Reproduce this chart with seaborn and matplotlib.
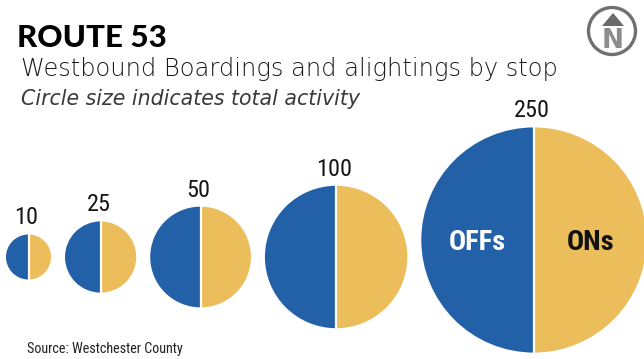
import numpy as np
import matplotlib.pyplot as plt
from matplotlib.patches import Wedge, Circle, Polygon
import matplotlib.font_manager as fm
import seaborn as sns

# total activity per stop (circle labels)
totals = [10, 25, 50, 100, 250]
labels = ["10", "25", "50", "100", "250"]
series = ["OFFs", "ONs"]

sns.set_theme(style="white")
names = {f.name for f in fm.fontManager.ttflist}
narrow = [n for n in ["Roboto Condensed", "Liberation Sans Narrow",
                      "DejaVu Sans Condensed", "Roboto"] if n in names]
plt.rcParams["font.family"] = narrow + ["DejaVu Sans"]

blue = "#2260a8"
gold = "#ecbd5b"

fig = plt.figure(figsize=(6.44, 3.59), dpi=100)
ax = fig.add_axes([0, 0, 1, 1])
ax.set_xlim(0, 644)
ax.set_ylim(359, 0)
ax.set_aspect("equal")
ax.axis("off")

# circle area proportional to total
radii = 7.12 * np.sqrt(np.array(totals, dtype=float))
gap = 14
x = 6
cys = [257, 257, 257, 257, 240]
for i, (v, r) in enumerate(zip(totals, radii)):
    cx = x + r
    cy = cys[i]
    ax.add_patch(Wedge((cx, cy), r, 90, 270, facecolor=blue, edgecolor="none"))
    ax.add_patch(Wedge((cx, cy), r, -90, 90, facecolor=gold, edgecolor="none"))
    ax.plot([cx, cx], [cy - r - 1, cy + r + 1], color="white", lw=1.6)
    ax.text(cx - 2, cy - r - 5, labels[i], ha="center", va="bottom",
            fontsize=17.5, color="#161616")
    if i == len(totals) - 1:
        ax.text(cx - r / 2, cy + 2, series[0], ha="center", va="center",
                fontsize=20.5, fontweight="bold", color="white")
        ax.text(cx + r / 2, cy + 2, series[1], ha="center", va="center",
                fontsize=20.5, fontweight="bold", color="#111111")
    x = cx + r + gap

# titles
ax.text(17, 38, "ROUTE 53", fontsize=22.5, fontweight="black",
        family=["Lato", "DejaVu Sans"], color="black", va="center")
ax.text(21, 69, "Westbound Boardings and alightings by stop", fontsize=17.4,
        family=["DejaVu Sans"], fontweight="light",
        color="#1a1a1a", va="center")
ax.text(21, 99, "Circle size indicates total activity", fontsize=14.8,
        family=["DejaVu Sans"], fontweight="light",
        style="italic", color="#3a3a3a", va="center")
ax.text(27, 349, "Source: Westchester County", fontsize=10.2,
        color="#222222", va="center")

# north logo
ax.add_patch(Circle((612, 31), 23.5, facecolor="white", edgecolor="#707070", lw=2.4))
ax.add_patch(Polygon([[613, 13], [602, 26], [624, 26]], closed=True,
                     facecolor="#6a6a6a", edgecolor="none"))
ax.text(613, 41, "N", ha="center", va="center", fontsize=19,
        fontweight="bold", color="#8c8c8c", family=["DejaVu Sans"])

fig.savefig("out.png", dpi=100)
